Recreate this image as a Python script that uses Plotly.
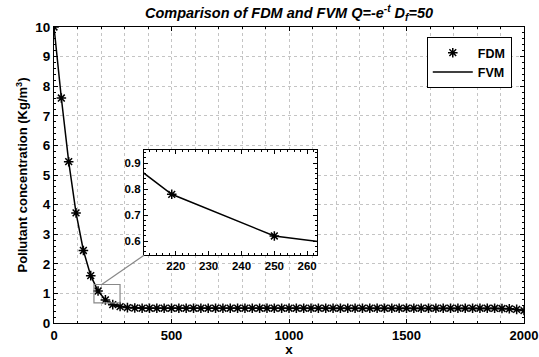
import plotly.graph_objects as go

# ---- data ----
x_vals = [0, 31.25, 62.5, 93.75, 125, 156.25, 187.5, 218.75, 250, 281.25, 312.5, 343.75,
          375, 406.25, 437.5, 468.75, 500, 531.25, 562.5, 593.75, 625, 656.25, 687.5, 718.75,
          750, 781.25, 812.5, 843.75, 875, 906.25, 937.5, 968.75, 1000, 1031.25, 1062.5, 1093.75,
          1125, 1156.25, 1187.5, 1218.75, 1250, 1281.25, 1312.5, 1343.75, 1375, 1406.25, 1437.5,
          1468.75, 1500, 1531.25, 1562.5, 1593.75, 1625, 1656.25, 1687.5, 1718.75, 1750, 1781.25,
          1812.5, 1843.75, 1875, 1906.25, 1937.5, 1968.75, 2000]
fdm = [10.0, 7.6, 5.45, 3.72, 2.45, 1.6, 1.08, 0.78, 0.62, 0.555, 0.52, 0.505,
       0.5, 0.5, 0.5, 0.5, 0.5, 0.5, 0.5, 0.5, 0.5, 0.5, 0.5, 0.5,
       0.5, 0.5, 0.5, 0.5, 0.5, 0.5, 0.5, 0.5, 0.5, 0.5, 0.5, 0.5,
       0.5, 0.5, 0.5, 0.5, 0.5, 0.5, 0.5, 0.5, 0.5, 0.5, 0.5,
       0.5, 0.5, 0.5, 0.5, 0.5, 0.5, 0.5, 0.5, 0.5, 0.5, 0.5,
       0.5, 0.5, 0.498, 0.49, 0.48, 0.46, 0.42]
fvm = list(fdm)

zoom_box_x = [170, 281]
zoom_box_y = [0.68, 1.30]
inset_x_range = [210.3, 263]
inset_y_range = [0.546, 0.952]

FONT = "Liberation Sans"
fig = go.Figure()

for xa, ya, show in [("x", "y", True), ("x2", "y2", False)]:
    fig.add_trace(go.Scatter(x=x_vals, y=fdm, mode="markers", name="FDM",
                             marker=dict(symbol="asterisk-open", size=8, color="black",
                                         line=dict(color="black", width=1.5)),
                             xaxis=xa, yaxis=ya, showlegend=show))
    fig.add_trace(go.Scatter(x=x_vals, y=fvm, mode="lines", name="FVM",
                             line=dict(color="black", width=1.5),
                             xaxis=xa, yaxis=ya, showlegend=show))

# inset domains (paper)
idx = [0.1915, 0.5596]
idy = [0.229, 0.586]

def tf(size):
    return dict(family=FONT, size=size, color="black", weight="bold")

axis_common = dict(showline=True, linecolor="black", linewidth=1.2, mirror="ticks",
                   ticks="inside", ticklen=4, tickcolor="black", zeroline=False,
                   ticklabeloverflow="allow", automargin=False)

fig.update_layout(
    width=539, height=357,
    margin=dict(l=54, r=15, t=27, b=34),
    paper_bgcolor="white", plot_bgcolor="white",
    title=dict(text="Comparison of FDM and FVM Q=-e<sup>-t</sup> D<sub>f</sub>=50",
               x=0.5, xref="paper", xanchor="center", y=0.978, yref="container",
               font=dict(family=FONT, size=14.5, color="black", weight="bold", style="italic")),
    xaxis=dict(range=[0, 2000], dtick=500, showgrid=True, gridcolor="#c4c4c4", griddash="dot",
               gridwidth=1,
               minor=dict(dtick=100, showgrid=True, gridcolor="#c4c4c4", griddash="dot",
                          ticks="inside", ticklen=2, tickcolor="black"),
               tickfont=tf(13),
               title=dict(text="x", font=tf(13.5), standoff=1),
               **axis_common),
    yaxis=dict(range=[0, 10], dtick=1, showgrid=True, gridcolor="#c4c4c4", griddash="dot",
               minor=dict(dtick=0.2, ticks="inside", ticklen=2, tickcolor="black"),
               tickfont=tf(13.5),
               title=dict(text="Pollutant concentration (Kg/m<sup>3</sup>)",
                          font=tf(13), standoff=4),
               **axis_common),
    xaxis2=dict(domain=idx, anchor="y2", range=inset_x_range, dtick=10, showgrid=False,
                minor=dict(dtick=2, ticks="inside", ticklen=2, tickcolor="black"),
                tickfont=tf(11.5), **axis_common),
    yaxis2=dict(domain=idy, anchor="x2", range=inset_y_range, dtick=0.1, showgrid=False,
                minor=dict(dtick=0.02, ticks="inside", ticklen=2, tickcolor="black"),
                tickfont=tf(11.5), **axis_common),
    legend=dict(x=0.974, y=0.966, xanchor="right", yanchor="top", bgcolor="white",
                bordercolor="black", borderwidth=1, itemwidth=40, tracegroupgap=0,
                font=tf(12.5)),
)

# zoom box on main plot
fig.add_shape(type="rect", xref="x", yref="y", x0=zoom_box_x[0], x1=zoom_box_x[1],
              y0=zoom_box_y[0], y1=zoom_box_y[1], line=dict(color="#888888", width=1.2))
# connector line from box to inset corner
fig.add_shape(type="line", xref="x", yref="y", x0=203, y0=zoom_box_y[1],
              x1=(idx[0]) * 2000, y1=idy[0] * 10, line=dict(color="#888888", width=1.2))

fig.write_html("out.html")
